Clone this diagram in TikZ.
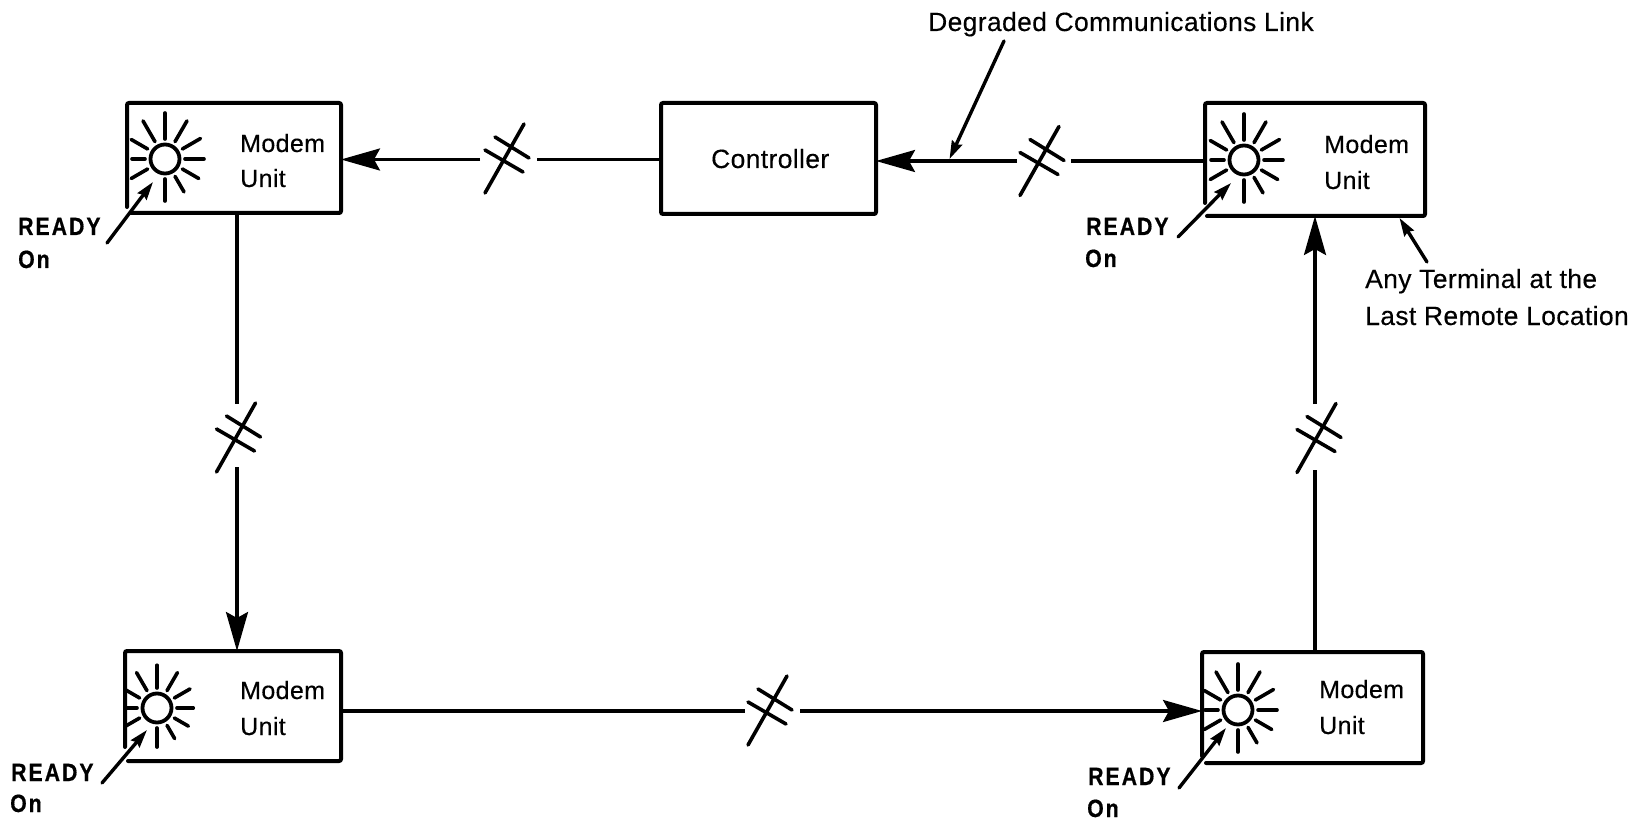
\documentclass[tikz,border=0pt]{standalone}
\usepackage{fontspec}
\setmainfont{Liberation Sans}
\newfontfamily\lab[LetterSpace=1.5,FakeBold=0.3]{Liberation Sans}
\newfontfamily\rdy[FakeStretch=0.85,LetterSpace=8,FakeBold=0.5]{Liberation Sans Bold}
\usetikzlibrary{arrows.meta,calc}
\tikzset{
  x=1pt,y=1pt,
  slot/.style={inner sep=0pt,outer sep=0pt},
  frame/.style={line width=4pt,rounded corners=2pt,line cap=round},
  wire/.style={line width=3.2pt},
  bigarrow/.style={line width=3.2pt,-{Stealth[length=39pt,width=22pt,inset=6pt]}},
  smallarrow/.style={line width=3.4pt,line cap=round,-{Stealth[length=18pt,width=11pt,inset=2pt]}},
  txt/.style={inner sep=0pt,anchor=base west,font=\lab\fontsize{25}{28}\selectfont},
  longtxt/.style={inner sep=0pt,anchor=base west,font=\lab\fontsize{26.4}{28}\selectfont},
  bold/.style={inner sep=0pt,anchor=base west,font=\rdy\fontsize{25}{28}\selectfont},
  hash/.pic={
    \draw[line width=3.6pt,line cap=round] (-19.5,-34.5) -- (19.5,34.5);
    \draw[line width=3.6pt,line cap=round] (-19.5,8.5) -- (18.5,-13.5);
    \draw[line width=3.6pt,line cap=round] (-9.5,21.5) -- (24.5,0.5);
  }
}
% open outline of a box: gap at its lower left corner
\newcommand{\openframe}[3]{\draw[frame] ([xshift=#2pt]#1.south west) -- (#1.south east) -- (#1.north east) -- (#1.north west) -- ([yshift=#3pt]#1.south west);}
% lamp: name, x, y, left box edge, ray scale
\newcommand{\lamp}[5]{
  \coordinate (#1) at (#2,#3);
  \begin{scope}
    \clip (#4,#3-60) rectangle (#2+60,#3+60);
    \foreach \a/\r in {90/46,60/44,30/41,0/39,-30/39,-60/38,-90/42,-150/39,180/33,150/39,120/44}
      \draw[line width=3.6pt,line cap=round] ($(#1)+(\a:20)$) -- ($(#1)+(\a:\r*#5)$);
  \end{scope}
  \draw[line width=3.8pt] (#1) circle (14.5);
}
\begin{document}
\begin{tikzpicture}
\useasboundingbox (0,-821) rectangle (1639,0);
\fill[white] (0,-821) rectangle (1639,0);

% boxes
\node[slot,minimum width=214pt,minimum height=110pt] (tl) at (234,-158) {};
\node[slot,minimum width=215pt,minimum height=111pt] (ctl) at (768.5,-158.5) {};
\node[slot,minimum width=220pt,minimum height=113pt] (tr) at (1315,-159.5) {};
\node[slot,minimum width=216pt,minimum height=110pt] (bl) at (233,-706) {};
\node[slot,minimum width=221pt,minimum height=111pt] (br) at (1312.5,-707.5) {};
\openframe{tl}{4}{6}
\draw[frame] (ctl.south west) rectangle (ctl.north east);
\openframe{tr}{2}{13}
\openframe{bl}{3}{14}
\openframe{br}{4}{7}

% lamps
\lamp{ltl}{165}{-159}{127}{1}
\lamp{ltr}{1244}{-160}{1205}{1}
\lamp{lbl}{157}{-708}{125}{0.93}
\lamp{lbr}{1238}{-710}{1202}{1}

% box texts
\node[txt] (t1) at (240,-152) {Modem};
\node[txt] (t2) at (240,-187) {Unit};
\node[txt] (t3) at (1324,-153) {Modem};
\node[txt] (t4) at (1324,-189) {Unit};
\node[txt] (t5) at (240,-699) {Modem};
\node[txt] (t6) at (240,-735) {Unit};
\node[txt] (t7) at (1319,-698) {Modem};
\node[txt] (t8) at (1319,-734) {Unit};
\node[longtxt] (t9) at (711,-168) {Controller};

% other texts
\node[longtxt] (deg) at (928,-31) {Degraded Communications Link};
\node[longtxt] (any1) at (1365,-288) {Any Terminal at the};
\node[longtxt] (any2) at (1365,-325) {Last Remote Location};
\node[bold] (r1) at (18,-235) {READY};
\node[bold] (o1) at (18,-268) {On};
\node[bold] (r2) at (1086,-235) {READY};
\node[bold] (o2) at (1085,-267) {On};
\node[bold] (r3) at (11,-781) {READY};
\node[bold] (o3) at (10,-812) {On};
\node[bold] (r4) at (1088,-785) {READY};
\node[bold] (o4) at (1087,-817) {On};

% link break coordinates
\coordinate (g1a) at (480,-159.5);
\coordinate (g1b) at (537,-159.5);
\coordinate (g2a) at (1017,-161);
\coordinate (g2b) at (1071,-161);
\coordinate (g3a) at (237,-404);
\coordinate (g3b) at (237,-467);
\coordinate (g4a) at (745,-711);
\coordinate (g4b) at (800,-711);
\coordinate (g5a) at (1315,-470);
\coordinate (g5b) at (1315,-404);

% connectors
\draw[wire] (ctl.west |- g1b) -- (g1b);
\draw[bigarrow] (g1a) -- (tl.east |- g1a);
\draw[wire] (tr.west |- g2b) -- (g2b);
\draw[bigarrow] (g2a) -- (ctl.east |- g2a);
\draw[wire] (tl.south -| g3a) -- (g3a);
\draw[bigarrow] (g3b) -- (bl.north -| g3b);
\draw[wire] (bl.east |- g4a) -- (g4a);
\draw[bigarrow] (g4b) -- (br.west |- g4b);
\draw[wire] (br.north -| g5a) -- (g5a);
\draw[bigarrow] (g5b) -- (tr.south -| g5b);

% breaks
\pic at (504.5,-158.5) {hash};
\pic at (1039.5,-161) {hash};
\pic at (236,-437.5) {hash};
\pic at (767.5,-710.5) {hash};
\pic at (1316.5,-438) {hash};

% pointers
\coordinate (p1a) at (107,-243); \coordinate (p1b) at (153,-182);
\coordinate (p2a) at (1178,-237); \coordinate (p2b) at (1231,-183);
\coordinate (p3a) at (102,-783); \coordinate (p3b) at (147,-730);
\coordinate (p4a) at (1179,-788); \coordinate (p4b) at (1226,-728);
\coordinate (p5a) at (1004,-41); \coordinate (p5b) at (949.5,-159);
\coordinate (p6a) at (1427,-262); \coordinate (p6b) at (1399.5,-218);
\foreach \n in {1,...,6} \draw[smallarrow] (p\n a) -- (p\n b);
\end{tikzpicture}
\end{document}
